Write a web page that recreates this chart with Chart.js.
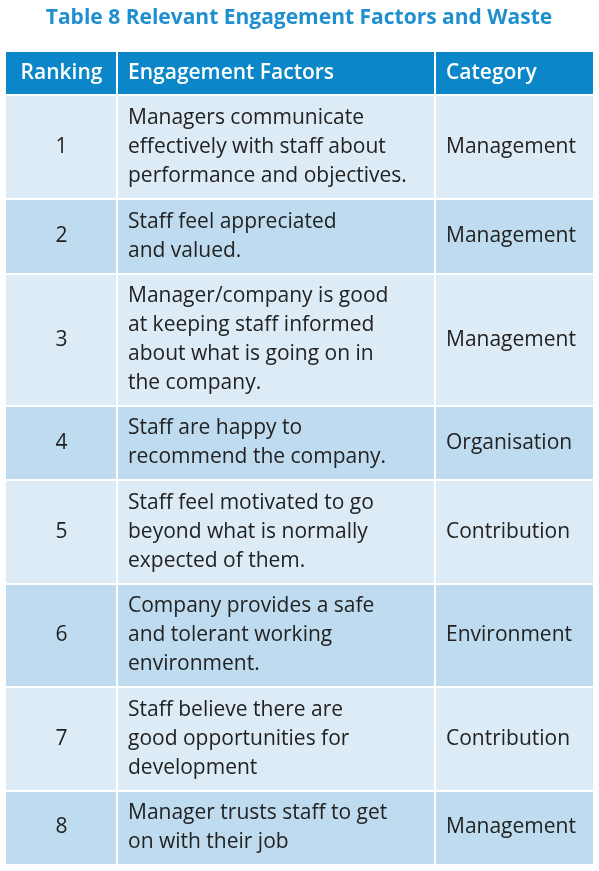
<!DOCTYPE html>
<html>
<head>
<meta charset="utf-8">
<script src="https://cdn.jsdelivr.net/npm/chart.js@4"></script>
<style>
  body { margin: 0; background: #fff; }
  canvas { display: block; }
</style>
</head>
<body>
<canvas id="tbl" width="599" height="871"></canvas>
<script>
const title = 'Table 8 Relevant Engagement Factors and Waste';
const headers = ['Ranking', 'Engagement Factors', 'Category'];
const rankings = ['1', '2', '3', '4', '5', '6', '7', '8'];
const factors = [
    ['Managers communicate', 'effectively with staff about', 'performance and objectives.'],
    ['Staff feel appreciated', 'and valued.'],
    ['Manager/company is good', 'at keeping staff informed', 'about what is going on in', 'the company.'],
    ['Staff are happy to', 'recommend the company.'],
    ['Staff feel motivated to go', 'beyond what is normally', 'expected of them.'],
    ['Company provides a safe', 'and tolerant working', 'environment.'],
    ['Staff believe there are', 'good opportunities for', 'development'],
    ['Manager trusts staff to get', 'on with their job']
];
const categories = ['Management', 'Management', 'Management', 'Organisation', 'Contribution', 'Environment', 'Contribution', 'Management'];

// layout (page units, mapped through the chart's scales)
const colEdges = [6, 117, 435, 593];
const rowEdges = [52, 95, 199, 274, 406, 480, 584, 687, 791, 864];
const lineH = 29;

const tablePlugin = {
    id: 'table',
    afterDraw(chart) {
        const { ctx, scales: { x, y } } = chart;
        const px = v => x.getPixelForValue(v);
        const py = v => y.getPixelForValue(v);
        ctx.save();
        ctx.fillStyle = '#1f8fcf';
        ctx.font = 'bold 21px "Open Sans", sans-serif';
        ctx.textAlign = 'center';
        ctx.textBaseline = 'middle';
        ctx.fillText(title, px(299), py(18));

        // header
        ctx.fillStyle = '#0b86c8';
        ctx.fillRect(px(colEdges[0]), py(rowEdges[0]), px(colEdges[3]) - px(colEdges[0]), py(rowEdges[1]) - py(rowEdges[0]));
        ctx.fillStyle = '#fff';
        ctx.font = '600 21px "Open Sans", sans-serif';
        const hy = py((rowEdges[0] + rowEdges[1]) / 2);
        ctx.textAlign = 'center';
        ctx.fillText(headers[0], px((colEdges[0] + colEdges[1]) / 2), hy);
        ctx.textAlign = 'left';
        ctx.fillText(headers[1], px(colEdges[1] + 11), hy);
        ctx.fillText(headers[2], px(colEdges[2] + 11), hy);

        // body rows
        ctx.font = '21px "Open Sans", sans-serif';
        rankings.forEach((r, i) => {
            const top = py(rowEdges[i + 1]), bot = py(rowEdges[i + 2]);
            ctx.fillStyle = i % 2 === 0 ? '#dcebf6' : '#bfdbef';
            ctx.fillRect(px(colEdges[0]), top, px(colEdges[3]) - px(colEdges[0]), bot - top);
            const mid = (top + bot) / 2;
            ctx.fillStyle = '#222';
            ctx.textAlign = 'center';
            ctx.fillText(r, px((colEdges[0] + colEdges[1]) / 2), mid);
            ctx.textAlign = 'left';
            const lines = factors[i];
            const start = mid - (lines.length - 1) * lineH / 2;
            lines.forEach((t, k) => ctx.fillText(t, px(colEdges[1] + 11), start + k * lineH));
            ctx.fillText(categories[i], px(colEdges[2] + 11), mid);
        });

        // white grid lines
        ctx.strokeStyle = '#fff';
        ctx.lineWidth = 2;
        rowEdges.slice(1, -1).forEach(e => {
            ctx.beginPath();
            ctx.moveTo(px(colEdges[0]), py(e));
            ctx.lineTo(px(colEdges[3]), py(e));
            ctx.stroke();
        });
        colEdges.slice(1, -1).forEach(e => {
            ctx.beginPath();
            ctx.moveTo(px(e), py(rowEdges[0]));
            ctx.lineTo(px(e), py(rowEdges[rowEdges.length - 1]));
            ctx.stroke();
        });
        ctx.restore();
    }
};

new Chart(document.getElementById('tbl'), {
    type: 'scatter',
    data: { datasets: [{ data: [] }] },
    options: {
        responsive: false,
        animation: false,
        layout: { padding: 0 },
        plugins: { legend: { display: false }, tooltip: { enabled: false } },
        scales: {
            x: { type: 'linear', min: 0, max: 599, display: false },
            y: { type: 'linear', min: 0, max: 871, reverse: true, display: false }
        }
    },
    plugins: [tablePlugin]
});
</script>
</body>
</html>
